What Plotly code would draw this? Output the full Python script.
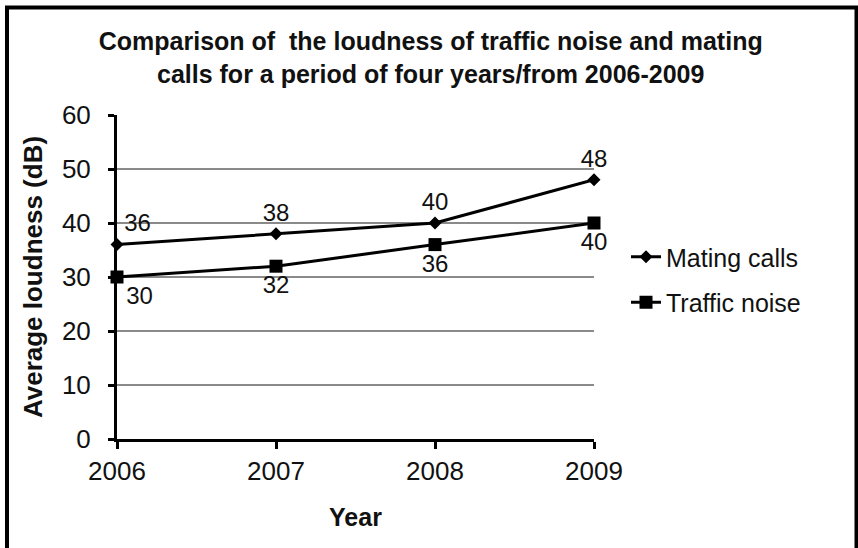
import plotly.graph_objects as go

years = [2006, 2007, 2008, 2009]
mating_calls = [36, 38, 40, 48]
traffic_noise = [30, 32, 36, 40]
mating_pos = ["top right", "top center", "top center", "top center"]
traffic_pos = ["bottom right", "bottom center", "bottom center", "bottom center"]

FONT = "Liberation Sans, Arial, sans-serif"

fig = go.Figure()
fig.add_trace(go.Scatter(
    x=years, y=mating_calls, name="Mating calls", mode="lines+markers+text",
    line=dict(color="black", width=3),
    marker=dict(symbol="diamond", size=10, color="black"),
    text=[str(v) for v in mating_calls], textposition=mating_pos,
    textfont=dict(size=24, color="#111", family=FONT),
    cliponaxis=False, legendgroup="a"))
fig.add_trace(go.Scatter(
    x=years, y=traffic_noise, name="Traffic noise", mode="lines+markers+text",
    line=dict(color="black", width=3),
    marker=dict(symbol="square", size=13, color="black"),
    text=[str(v) for v in traffic_noise], textposition=traffic_pos,
    textfont=dict(size=24, color="#111", family=FONT),
    cliponaxis=False, legendgroup="b"))

# Outer frame (decoration)
L, R, T, B = 117, 594, 115, 439
def px(x):
    return (x - L) / (R - L)
def py(y):
    return (B - y) / (B - T)
frame = dict(type="line", xref="paper", yref="paper", line=dict(color="black", width=4))
shapes = [
    dict(frame, x0=px(7), x1=px(7), y0=py(548), y1=py(7.5)),
    dict(frame, x0=px(5), x1=px(858), y0=py(7.5), y1=py(7.5)),
    dict(frame, x0=px(856.5), x1=px(856.5), y0=py(7.5), y1=py(548)),
]

fig.update_layout(
    width=858, height=548,
    margin=dict(l=L, r=858 - R, t=T, b=548 - B),
    paper_bgcolor="white", plot_bgcolor="white",
    font=dict(family=FONT, color="#111", size=24),
    title=dict(text="<b>Comparison of  the loudness of traffic noise and mating<br>calls for a period of four years/from 2006-2009</b>",
               x=0.502, xref="container", xanchor="center",
               y=1 - 50 / 548, yref="container", yanchor="top",
               font=dict(size=25, color="#111")),
    xaxis=dict(range=[2006, 2009], tickvals=years, ticktext=[str(y) for y in years],
               showgrid=False, zeroline=False,
               showline=True, linecolor="black", linewidth=3,
               ticks="outside", ticklen=7, tickwidth=3, tickcolor="black",
               tickfont=dict(size=26),
               title=dict(text="<b>Year</b>", font=dict(size=25), standoff=24)),
    yaxis=dict(range=[0, 60], tickvals=[0, 10, 20, 30, 40, 50, 60],
               showgrid=True, gridcolor="#8a8a8a", gridwidth=2, zeroline=False,
               showline=True, linecolor="black", linewidth=3,
               ticks="outside", ticklen=6, tickwidth=3, tickcolor="black",
               tickfont=dict(size=26), ticklabelstandoff=12,
               title=dict(text="<b>Average loudness (dB)</b>", font=dict(size=26), standoff=12)),
    legend=dict(x=px(626), y=py(234), xanchor="left", yanchor="top",
                font=dict(size=25), tracegroupgap=10, bgcolor="rgba(0,0,0,0)"),
    showlegend=True,
    shapes=shapes,
)

fig.write_html("out.html")
